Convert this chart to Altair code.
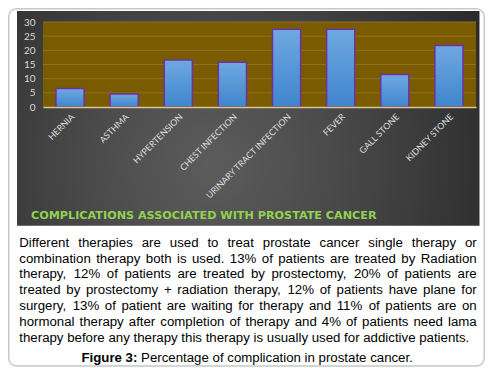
import altair as alt
import pandas as pd

# ---------------- data ----------------
categories = ["HERNIA", "ASTHMA", "HYPERTENSION", "CHEST INFECTION",
              "URINARY TRACT INFECTION", "FEVER", "GALL STONE", "KIDNEY STONE"]
values = [6.5, 4.6, 16.6, 15.8, 27.4, 27.4, 11.5, 21.7]
y_ticks = [0, 5, 10, 15, 20, 25, 30]
grid_values = [5, 10, 15, 20, 25, 30]

title_text = "COMPLICATIONS  ASSOCIATED  WITH  PROSTATE  CANCER"
caption_lines = [
    "Different therapies are used to treat prostate cancer single therapy or",
    "combination therapy both is used. 13% of patients are treated by Radiation",
    "therapy, 12% of patients are treated by prostectomy, 20% of patients are",
    "treated by prostectomy + radiation therapy, 12% of patients have plane for",
    "surgery, 13% of patient are waiting for therapy and 11% of patients are on",
    "hormonal therapy after completion of therapy and 4% of patients need lama",
    "therapy before any therapy this therapy is usually used for addictive patients.",
]
figure_label = "Figure 3:"
figure_caption = "Percentage of complication in prostate cancer."

# ---------------- layout ----------------
W, H = 433, 85
PAD_L, PAD_T = 35, 14
TOT_W, TOT_H = 477, 360
FS = 13.25  # caption font size

# Arial / Liberation Sans advance widths (per 1000 em)
_reg = {c: w for c, w in zip("abcdefghijklmnopqrstuvwxyz",
        [556, 556, 500, 556, 556, 278, 556, 556, 222, 222, 500, 222, 833,
         556, 556, 556, 556, 333, 500, 278, 556, 500, 722, 500, 500, 500])}
_reg.update({c: w for c, w in zip("ABCDEFGHIJKLMNOPQRSTUVWXYZ",
        [667, 667, 722, 722, 667, 611, 778, 722, 278, 500, 667, 556, 833,
         722, 778, 667, 778, 722, 667, 611, 722, 667, 944, 667, 667, 611])})
_reg.update({d: 556 for d in "0123456789"})
_reg.update({"%": 889, ",": 278, ".": 278, "+": 584, ":": 278, " ": 278})
_bold = {"F": 611, "i": 278, "g": 611, "u": 611, "r": 389, "e": 556,
         "3": 556, ":": 333, " ": 278}


def tw(s, table=_reg):
    return sum(table.get(c, 556) for c in s) / 1000.0 * FS


LEFT, RIGHT = 19.3 - 43, 476.7 - 43
BASE0, LSTEP = 246.7 - 22, 15.83

rows = []
for i, line in enumerate(caption_lines):
    words = line.split(" ")
    y = BASE0 + i * LSTEP
    if i < len(caption_lines) - 1:
        total = sum(tw(w) for w in words)
        gap = (RIGHT - LEFT - total) / (len(words) - 1)
    else:
        gap = tw(" ")
    x = LEFT
    for w in words:
        rows.append({"word": w, "px": x, "py": y})
        x += tw(w) + gap

fig_w = tw(figure_label, _bold) + tw(" " + figure_caption)
fx = 247.5 - 43 - fig_w / 2
fy = 361.7 - 22
rows.append({"word": figure_caption, "px": fx + tw(figure_label, _bold) + tw(" "), "py": fy})
words_df = pd.DataFrame(rows)
bold_df = pd.DataFrame([{"word": figure_label, "px": fx, "py": fy}])

one = alt.Data(values=[{"k": 0}])

# ---------------- layers ----------------
box = alt.Chart(one).mark_rect(
    fill="white", stroke="#c8c8c8", strokeWidth=1.5, cornerRadius=8
).encode(x=alt.value(8.75 - 43), x2=alt.value(484.25 - 43),
         y=alt.value(8.75 - 22), y2=alt.value(366 - 22))

panel_grad = alt.RadialGradient(
    gradient="radial", x1=0.42, y1=0.6, r1=0, x2=0.42, y2=0.6, r2=0.65,
    stops=[alt.GradientStop(color="#5c5c5c", offset=0),
           alt.GradientStop(color="#4d4d4d", offset=0.35),
           alt.GradientStop(color="#3b3b3b", offset=0.7),
           alt.GradientStop(color="#2b2b2b", offset=1)])
panel = alt.Chart(one).mark_rect(fill=panel_grad).encode(
    x=alt.value(17 - 43), x2=alt.value(479.5 - 43),
    y=alt.value(11 - 22), y2=alt.value(225.7 - 22))

olive = alt.Chart(one).mark_rect(fill="#7a5b00").encode(
    x=alt.value(0), x2=alt.value(W), y=alt.value(0), y2=alt.value(H))

grid = alt.Chart(pd.DataFrame({"g": grid_values})).mark_rule(
    color="#8d7120", strokeWidth=1
).encode(y=alt.Y("g:Q", scale=alt.Scale(domain=[0, 30], nice=False), axis=None))

bar_grad = alt.LinearGradient(
    gradient="linear", x1=0, y1=0, x2=0, y2=1,
    stops=[alt.GradientStop(color="#6fa8e1", offset=0),
           alt.GradientStop(color="#3f86cc", offset=1)])
bars = alt.Chart(pd.DataFrame({"cat": categories, "val": values})).mark_bar(
    fill=bar_grad, stroke="#7030a0", strokeWidth=1.5
).encode(
    x=alt.X("cat:N", sort=categories,
            scale=alt.Scale(paddingInner=0.48, paddingOuter=0.24),
            axis=alt.Axis(title=None, labelAngle=-45, labelColor="#dcdcdc",
                          labelFont="Lato", labelFontSize=8.8, ticks=False,
                          domainColor="#d8c88c", domainWidth=1.5,
                          labelPadding=5, zindex=1)),
    y=alt.Y("val:Q", scale=alt.Scale(domain=[0, 30], nice=False),
            axis=alt.Axis(title=None, values=y_ticks, grid=False, ticks=False,
                          domain=False, labelColor="#d9d9d9", labelFont="Lato",
                          labelFontSize=10, labelPadding=8, zindex=1)),
)

title = alt.Chart(pd.DataFrame({"t": [title_text]})).mark_text(
    align="left", baseline="alphabetic", font="DejaVu Sans", fontWeight="bold",
    fontSize=11.2, color="#92d050"
).encode(x=alt.value(31 - 43), y=alt.value(219 - 22), text="t:N")

caption = alt.Chart(words_df).mark_text(
    align="left", baseline="alphabetic", font="Liberation Sans",
    fontSize=FS, color="#000000"
).encode(
    x=alt.X("px:Q", scale=None, axis=None),
    y=alt.Y("py:Q", scale=None, axis=None),
    text="word:N",
)

caption_bold = alt.Chart(bold_df).mark_text(
    align="left", baseline="alphabetic", font="Liberation Sans",
    fontSize=FS, fontWeight="bold", color="#000000"
).encode(
    x=alt.X("px:Q", scale=None, axis=None),
    y=alt.Y("py:Q", scale=None, axis=None),
    text="word:N",
)

chart = alt.layer(box, panel, olive, grid, bars, title, caption, caption_bold).resolve_scale(
    x="independent", y="independent"
).properties(
    width=W, height=H,
    padding={"left": PAD_L, "top": PAD_T,
             "right": TOT_W - PAD_L - W, "bottom": TOT_H - PAD_T - H},
    autosize=alt.AutoSizeParams(type="none"),
    background="white",
).configure_view(stroke=None)

chart.save("out.html", embed_options={"renderer": "svg", "actions": False})
